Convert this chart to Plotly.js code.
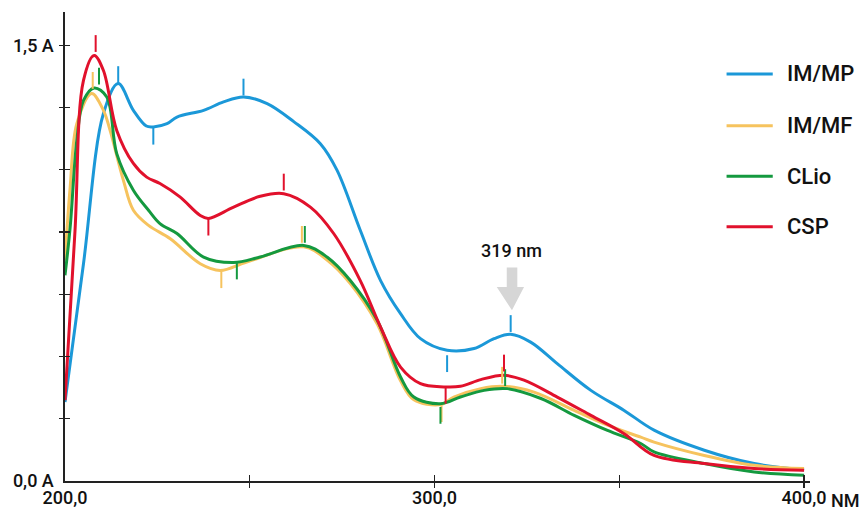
<!DOCTYPE html>
<html>
<head>
<meta charset="utf-8">
<script src="https://cdn.plot.ly/plotly-3.0.1.min.js"></script>
<style>html,body{margin:0;padding:0;background:#fff;}#chart{width:861px;height:512px;}</style>
</head>
<body>
<div id="chart"></div>
<script>
// ---- data ----
const seriesNames = ["IM/MP", "IM/MF", "CLio", "CSP"];

const immp_x = [200, 205.0, 210.4, 214.4, 218.5, 222.0, 223.9, 227.6, 230.3, 237.5, 242.9, 248.3, 254.7, 261.9, 269.1, 273.6, 279.9, 285.4, 290.8, 296.2, 303.4, 310.7, 316.1, 320.6, 326.0, 333.2, 342.3, 351.3, 359.4, 373.0, 386.5, 400];
const immp_y = [0.272, 0.748, 1.265, 1.368, 1.276, 1.222, 1.219, 1.230, 1.253, 1.276, 1.305, 1.322, 1.299, 1.237, 1.161, 1.070, 0.863, 0.690, 0.576, 0.490, 0.450, 0.456, 0.490, 0.505, 0.478, 0.404, 0.312, 0.243, 0.175, 0.106, 0.060, 0.038];

const immf_x = [200, 201.4, 203.2, 207.2, 210.4, 212.2, 215.8, 218.5, 222.6, 228.5, 236.6, 242.0, 249.2, 264.6, 271.0, 277.2, 284.5, 290.8, 294.4, 301.6, 305.2, 312.5, 318.8, 326.9, 337.8, 346.8, 355.8, 359.4, 373.0, 386.5, 400];
const immf_y = [0.759, 1.012, 1.230, 1.334, 1.276, 1.207, 1.035, 0.932, 0.880, 0.834, 0.748, 0.725, 0.754, 0.806, 0.760, 0.680, 0.540, 0.345, 0.280, 0.263, 0.289, 0.318, 0.326, 0.306, 0.243, 0.192, 0.151, 0.134, 0.088, 0.054, 0.043];

const clio_x = [200, 201.4, 203.2, 205.0, 207.9, 211.3, 214.0, 218.5, 222.6, 225.7, 230.3, 237.5, 245.6, 252.8, 264.6, 270.9, 277.2, 284.5, 290.8, 294.4, 301.6, 307.0, 313.4, 319.7, 328.8, 337.8, 346.8, 355.8, 359.4, 373.0, 386.5, 400];
const clio_y = [0.708, 0.874, 1.173, 1.310, 1.353, 1.322, 1.127, 1.001, 0.932, 0.886, 0.852, 0.771, 0.752, 0.771, 0.811, 0.771, 0.690, 0.553, 0.358, 0.289, 0.266, 0.289, 0.312, 0.318, 0.284, 0.226, 0.174, 0.129, 0.100, 0.060, 0.031, 0.020];

const csp_x = [200, 202.7, 205.0, 207.9, 210.4, 214.0, 218.5, 222.1, 225.7, 231.1, 236.5, 238.8, 245.5, 252.8, 259.2, 266.4, 272.7, 279.9, 285.4, 290.8, 296.2, 302.5, 307.0, 312.5, 318.8, 324.2, 333.2, 342.3, 351.3, 359.4, 373.0, 386.5, 400];
const csp_y = [0.278, 0.860, 1.379, 1.465, 1.413, 1.207, 1.093, 1.046, 1.024, 0.978, 0.915, 0.904, 0.942, 0.980, 0.989, 0.943, 0.852, 0.690, 0.530, 0.392, 0.335, 0.324, 0.326, 0.349, 0.364, 0.347, 0.289, 0.226, 0.163, 0.088, 0.060, 0.043, 0.037];

// peak / valley tick marks
const immp_tick_x = [214.4, 223.9, 248.3, 303.4, 320.6];
const immp_tick_y = [1.399, 1.187, 1.356, 0.404, 0.542];
const immf_tick_x = [207.5, 242.3, 264.1, 301.9, 318.3];
const immf_tick_y = [1.379, 0.693, 0.849, 0.232, 0.364];
const clio_tick_x = [209.2, 246.5, 264.9, 301.6, 319.1];
const clio_tick_y = [1.394, 0.723, 0.849, 0.226, 0.356];
const csp_tick_x = [208.3, 238.8, 259.2, 303.0, 318.8];
const csp_tick_y = [1.506, 0.874, 1.029, 0.295, 0.406];

const xTickVals = [200, 250, 300, 350, 400];
const xTickText = ["200,0", "", "300,0", "", "400,0"];
const yTickVals = [0, 1, 2, 3, 4, 5, 6, 7].map(k => k * 1.5 / 7);
const yTickText = ["0,0 A", "", "", "", "", "", "", "1,5 A"];
const xUnit = "NM";
const peakLabel = "319 nm";

// ---- styling ----
const colors = ["#1b98d8", "#f6c35e", "#14993f", "#e1112c"];
const FONT = "Roboto, 'Liberation Sans', Arial, sans-serif";

const lines = [[immp_x, immp_y], [immf_x, immf_y], [clio_x, clio_y], [csp_x, csp_y]];
const ticks = [[immp_tick_x, immp_tick_y], [immf_tick_x, immf_tick_y], [clio_tick_x, clio_tick_y], [csp_tick_x, csp_tick_y]];
const drawOrder = [0, 1, 2, 3];

const traces = [];
drawOrder.forEach(i => {
  traces.push({
    x: lines[i][0], y: lines[i][1], type: "scatter", mode: "lines",
    name: seriesNames[i], line: {color: colors[i], width: 3, shape: "spline", smoothing: 1},
    showlegend: false, hoverinfo: "skip"
  });
});
drawOrder.forEach(i => {
  traces.push({
    x: ticks[i][0], y: ticks[i][1], type: "scatter", mode: "markers",
    marker: {symbol: "line-ns", size: 12, line: {color: colors[i], width: 2}},
    showlegend: false, hoverinfo: "skip"
  });
});
// dummy traces for overlay axes (double-sided ticks)
traces.push({x: [200], y: [0], xaxis: "x2", yaxis: "y2", mode: "markers", marker: {opacity: 0}, showlegend: false, hoverinfo: "skip"});

const XR = [200, 401.6];
const YR = [0, 1.6145];

const shapes = [];
const annotations = [];
const legY = [0.868, 0.7576, 0.650, 0.542];
seriesNames.forEach((n, i) => {
  shapes.push({type: "line", xref: "paper", yref: "paper", x0: 0.888, x1: 0.950, y0: legY[i], y1: legY[i], line: {color: colors[i], width: 3}});
  annotations.push({xref: "paper", yref: "paper", x: 0.966, y: legY[i], xanchor: "left", yanchor: "middle", text: n, showarrow: false, font: {family: FONT, size: 22, color: "#111", weight: 500}});
});
// grey arrow pointing at the 319 nm peak
shapes.push({type: "path", xref: "x", yref: "y", fillcolor: "#d6d6d6", line: {width: 0},
  path: "M319.54,0.7346 L322.4,0.7346 L322.4,0.6678 L324.22,0.6678 L320.95,0.5876 L316.83,0.6678 L319.54,0.6678 Z"});
annotations.push({xref: "x", yref: "y", x: 320.8, y: 0.795, text: peakLabel, showarrow: false, font: {family: FONT, size: 18, color: "#111", weight: 500}});
annotations.push({xref: "paper", yref: "paper", x: 1.025, y: 0, yshift: -19, xanchor: "left", yanchor: "middle", text: xUnit, showarrow: false, font: {family: FONT, size: 18, color: "#111", weight: 500}});

const layout = {
  width: 861, height: 512,
  margin: {l: 65, r: 51, t: 12, b: 31},
  paper_bgcolor: "#fff", plot_bgcolor: "#fff",
  font: {family: FONT, size: 17, color: "#111", weight: 500},
  xaxis: {range: XR, showgrid: false, zeroline: false, showline: true, linecolor: "#222", linewidth: 1.6,
    tickmode: "array", tickvals: xTickVals, ticktext: xTickText, ticks: "inside", ticklen: 6, tickwidth: 1.4, tickcolor: "#222",
    tickfont: {family: FONT, size: 18, color: "#111", weight: 500}},
  xaxis2: {range: XR, overlaying: "x", anchor: "y", side: "bottom", showgrid: false, zeroline: false, showline: false,
    tickmode: "array", tickvals: xTickVals.slice(1), showticklabels: false, ticks: "outside", ticklen: 6, tickwidth: 1.4, tickcolor: "#222"},
  yaxis: {range: YR, showgrid: false, zeroline: false, showline: true, linecolor: "#222", linewidth: 1.6,
    tickmode: "array", tickvals: yTickVals, ticktext: yTickText, ticks: "inside", ticklen: 5, tickwidth: 1.4, tickcolor: "#222",
    ticklabelstandoff: 6, tickfont: {family: FONT, size: 18, color: "#111", weight: 500}},
  yaxis2: {range: YR, overlaying: "y", anchor: "x", side: "left", showgrid: false, zeroline: false, showline: false,
    tickmode: "array", tickvals: yTickVals.slice(1), showticklabels: false, ticks: "outside", ticklen: 5, tickwidth: 1.4, tickcolor: "#222"},
  showlegend: false,
  shapes: shapes,
  annotations: annotations
};

Plotly.newPlot("chart", traces, layout, {displayModeBar: false, staticPlot: true});
</script>
</body>
</html>
